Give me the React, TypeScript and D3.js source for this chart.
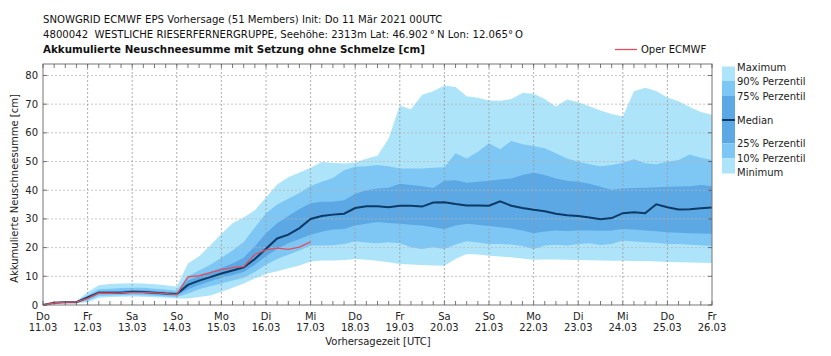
import React from "react";
import * as d3 from "d3";

// forecast time steps (hours after 11.03.2021 00 UTC)
const hours = [
  0, 6, 12, 18, 24, 30, 36, 42, 48, 54, 60, 66, 72, 78, 84, 90, 96, 102, 108, 114,
  120, 126, 132, 138, 144, 150, 156, 162, 168, 174, 180, 186, 192, 198, 204, 210,
  216, 222, 228, 234, 240, 246, 252, 258, 264, 270, 276, 282, 288, 294, 300, 306,
  312, 318, 324, 330, 336, 342, 348, 354, 360,
];

const minimum = [
  0, 0.5, 0.7, 0.7, 1.0, 2.5, 2.8, 2.9, 3.0, 2.9, 2.7, 2.5, 2.3, 2.3, 2.8, 3.3, 4.6, 6.0, 7.5, 9.2,
  10.8, 11.8, 12.8, 13.8, 15.2, 15.5, 15.5, 15.7, 16.0, 15.8, 15.4, 14.9, 14.3, 14.1, 13.9, 13.8,
  13.7, 16.0, 17.8, 17.6, 17.2, 16.9, 16.6, 16.2, 15.8, 15.9, 15.9, 15.8, 15.7, 15.6, 15.5, 15.4,
  15.4, 15.3, 15.3, 15.2, 15.0, 14.9, 14.8, 14.7, 14.6,
];
const p10 = [
  0, 0.6, 0.8, 0.8, 1.5, 3.2, 3.3, 3.4, 3.5, 3.4, 3.2, 3.0, 2.8, 4.0, 5.5, 6.5, 7.5, 8.5, 9.5, 11.5,
  14.0, 16.0, 17.5, 19.0, 20.7, 20.7, 20.8, 21.3, 22.2, 21.8, 21.5, 21.9, 21.5, 20.1, 19.5, 20.1,
  19.5, 21.1, 22.2, 21.8, 21.3, 21.3, 21.1, 20.6, 19.5, 20.7, 21.0, 20.7, 21.3, 21.5, 20.9, 21.3,
  22.5, 22.1, 21.9, 21.7, 21.3, 21.3, 21.0, 20.8, 20.6,
];
const p25 = [
  0, 0.7, 0.9, 0.9, 2.1, 3.8, 3.8, 3.9, 4.0, 3.9, 3.7, 3.5, 3.3, 5.5, 7.0, 8.3, 9.5, 10.5, 11.5, 14.0,
  17.0, 19.5, 21.5, 23.0, 24.5, 25.5, 26.3, 26.5, 27.7, 28.3, 28.9, 28.6, 28.3, 28.0, 27.7, 27.1,
  26.5, 27.7, 28.3, 28.0, 27.5, 27.1, 26.7, 26.0, 25.0, 25.6, 26.0, 25.8, 26.0, 26.0, 25.9, 26.0,
  26.5, 26.3, 26.0, 25.7, 25.4, 25.2, 25.0, 24.9, 24.8,
];
const median = [
  0, 0.8, 1.0, 1.0, 2.6, 4.3, 4.3, 4.3, 4.6, 4.5, 4.3, 4.0, 3.8, 7.0, 8.5, 9.7, 11.0, 12.0, 13.1, 16.0,
  19.6, 23.2, 24.5, 26.8, 30.0, 31.0, 31.5, 31.8, 33.8, 34.4, 34.4, 34.1, 34.6, 34.6, 34.3, 35.7,
  35.8, 35.2, 34.7, 34.7, 34.6, 36.1, 34.6, 33.8, 33.2, 32.7, 31.8, 31.3, 31.0, 30.5, 29.9, 30.3,
  32.0, 32.3, 32.0, 35.1, 34.1, 33.3, 33.4, 33.7, 34.0,
];
const p75 = [
  0, 0.9, 1.1, 1.1, 3.0, 4.8, 4.9, 5.0, 5.2, 5.1, 4.9, 4.6, 4.3, 8.5, 10.0, 11.5, 13.0, 14.5, 16.5, 20.5,
  25.0, 28.5, 31.0, 33.5, 35.5, 36.0, 36.0, 36.5, 38.8, 40.0, 40.6, 40.9, 42.3, 41.8, 41.4, 40.8,
  43.3, 43.5, 42.6, 43.0, 43.3, 43.7, 44.1, 45.3, 46.1, 45.3, 44.1, 43.3, 43.0, 42.3, 41.2, 40.2,
  40.6, 40.8, 40.9, 41.0, 41.2, 41.3, 41.4, 41.8, 41.4,
];
const p90 = [
  0, 1.0, 1.2, 1.2, 3.4, 5.5, 5.7, 5.9, 6.0, 6.0, 5.7, 5.4, 5.0, 10.0, 12.0, 14.0, 16.5, 19.0, 22.0, 27.0,
  32.0, 35.0, 37.0, 39.0, 41.5, 43.0, 44.3, 47.0, 48.2, 48.4, 48.8, 48.4, 47.6, 47.6, 47.6, 47.8,
  48.0, 52.9, 51.1, 53.4, 56.4, 54.3, 57.2, 56.0, 55.4, 54.6, 52.9, 51.1, 49.9, 49.1, 48.4, 48.8,
  49.6, 50.8, 49.4, 49.1, 49.9, 50.5, 52.5, 51.3, 50.5,
];
const maximum = [
  0, 1.1, 1.3, 1.4, 4.5, 6.9, 7.3, 7.5, 7.6, 7.5, 7.2, 6.9, 6.4, 14.5, 17.0, 20.7, 24.8, 28.5, 30.5, 33.0,
  37.5, 42.0, 44.5, 46.2, 47.8, 49.8, 49.5, 49.3, 49.7, 51.0, 52.0, 58.0, 69.5, 68.2, 73.3, 74.5,
  76.5, 76.0, 72.8, 72.2, 71.3, 71.2, 71.8, 73.9, 73.6, 71.8, 69.2, 71.6, 70.7, 69.3, 67.8, 66.6,
  65.7, 74.5, 75.7, 74.6, 72.3, 71.0, 69.0, 67.3, 66.3,
];
// deterministic run (ends at 17.03 00 UTC)
const oper = [
  0, 0.7, 1.0, 1.0, 2.3, 4.1, 4.1, 4.2, 4.4, 4.4, 4.2, 4.0, 3.6, 9.8, 10.2, 11.3, 12.3, 13.0, 13.4,
  17.6, 19.2, 19.8, 19.4, 20.2, 22.0,
];

const dayNames = ["Do", "Fr", "Sa", "So", "Mo", "Di", "Mi", "Do", "Fr", "Sa", "So", "Mo", "Di", "Mi", "Do", "Fr"];
const dayDates = ["11.03", "12.03", "13.03", "14.03", "15.03", "16.03", "17.03", "18.03", "19.03", "20.03", "21.03", "22.03", "23.03", "24.03", "25.03", "26.03"];
const yTicks = [0, 10, 20, 30, 40, 50, 60, 70, 80];

const legendItems = ["Maximum", "90% Perzentil", "75% Perzentil", "Median", "25% Perzentil", "10% Perzentil", "Minimum"];

const W = 831, H = 356;
const L = 43, R = 712, T = 64, B = 305;
const C_LIGHT = "#aee4fa";
const C_MED = "#7ec6f4";
const C_DARK = "#5ba8e4";
const C_MEDIAN = "#0c3a64";
const C_OPER = "#e0505f";
const FONT = "DejaVu Sans";

export default function App() {
  const x = d3.scaleLinear().domain([0, 360]).range([L, R]);
  const y = d3.scaleLinear().domain([0, 84]).range([B, T]);

  const band = (lo: number[], hi: number[]) =>
    d3.area<number>()
      .x((i) => x(hours[i]))
      .y0((i) => y(lo[i]))
      .y1((i) => y(hi[i]))(hours.map((_, i) => i)) || "";

  const line = (vals: number[]) =>
    d3.line<number>().x((i) => x(hours[i])).y((i) => y(vals[i]))(vals.map((_, i) => i)) || "";

  const dayTicks = dayDates.map((_, i) => i * 24);
  const minorTicks = hours;

  return (
    <svg width={W} height={H} style={{ position: "absolute", left: 0, top: 0, background: "#fff" }} fontFamily={FONT}>
      {/* titles */}
      <text x={43} y={23} fontSize={10.15} fill="#111">SNOWGRID ECMWF EPS Vorhersage (51 Members) Init: Do 11 Mär 2021 00UTC</text>
      <text x={43} y={38} fontSize={10.15} fill="#111">
        {"4800042\u00a0\u00a0WESTLICHE RIESERFERNERGRUPPE, Seehöhe: 2313m Lat: 46.902\u2009°\u2009N Lon: 12.065°\u2009O"}
      </text>
      <text x={43} y={53} fontSize={10.3} fontWeight="bold" fill="#111">Akkumulierte Neuschneesumme mit Setzung ohne Schmelze [cm]</text>

      {/* oper legend */}
      <line x1={615} x2={637} y1={49.5} y2={49.5} stroke={C_OPER} strokeWidth={1.3} />
      <text x={641} y={53} fontSize={10} fill="#111">Oper ECMWF</text>

      {/* bands */}
      <path d={band(minimum, maximum)} fill={C_LIGHT} />
      <path d={band(p10, p90)} fill={C_MED} />
      <path d={band(p25, p75)} fill={C_DARK} />

      {/* grid */}
      {yTicks.filter((v) => v > 0).map((v) => (
        <line key={"gy" + v} x1={L} x2={R} y1={y(v)} y2={y(v)} stroke="#b8b8b8" strokeWidth={0.8} strokeDasharray="2,2" />
      ))}
      {dayTicks.slice(1, -1).map((h) => (
        <line key={"gx" + h} x1={x(h)} x2={x(h)} y1={T} y2={B} stroke="#999" strokeWidth={0.8} strokeDasharray="2,2" />
      ))}

      {/* lines */}
      <path d={line(median)} fill="none" stroke={C_MEDIAN} strokeWidth={2} />
      <path d={line(oper)} fill="none" stroke={C_OPER} strokeWidth={1.3} />

      {/* frame */}
      <rect x={L} y={T} width={R - L} height={B - T} fill="none" stroke="#777" strokeWidth={1} />

      {/* x ticks */}
      {minorTicks.map((h) => (
        <g key={"tx" + h}>
          <line x1={x(h)} x2={x(h)} y1={B} y2={B - 4} stroke="#555" strokeWidth={0.8} />
          <line x1={x(h)} x2={x(h)} y1={T} y2={T + 4} stroke="#555" strokeWidth={0.8} />
        </g>
      ))}
      {dayTicks.map((h, i) => (
        <g key={"lx" + h} fontSize={10} fill="#222" textAnchor="middle">
          <text x={x(h)} y={320}>{dayNames[i]}</text>
          <text x={x(h)} y={331}>{dayDates[i]}</text>
        </g>
      ))}

      {/* y ticks */}
      {yTicks.map((v) => (
        <g key={"ty" + v}>
          <line x1={L} x2={L + 4} y1={y(v)} y2={y(v)} stroke="#555" strokeWidth={0.8} />
          <line x1={R} x2={R - 4} y1={y(v)} y2={y(v)} stroke="#555" strokeWidth={0.8} />
          <text x={38} y={y(v) + 3.5} fontSize={10} fill="#222" textAnchor="end">{v}</text>
        </g>
      ))}

      {/* axis labels */}
      <text x={378} y={345} fontSize={10} fill="#222" textAnchor="middle">Vorhersagezeit [UTC]</text>
      <text transform={`translate(18,${(T + B) / 2 + 4}) rotate(-90)`} fontSize={10} fill="#222" textAnchor="middle">
        Akkumulierte Neuschneesumme [cm]
      </text>

      {/* band legend */}
      <rect x={722} y={66.5} width={13} height={14.5} fill={C_LIGHT} />
      <rect x={722} y={81} width={13} height={15} fill={C_MED} />
      <rect x={722} y={96} width={13} height={47.5} fill={C_DARK} />
      <rect x={722} y={143.5} width={13} height={15} fill={C_MED} />
      <rect x={722} y={158.5} width={13} height={15} fill={C_LIGHT} />
      <line x1={722} x2={735} y1={120} y2={120} stroke={C_MEDIAN} strokeWidth={2} />
      {legendItems.map((t, i) => (
        <text key={t} x={737} y={[67, 81.5, 96, 120.5, 143.5, 158, 172.5][i] + 3.5} fontSize={10} fill="#222">{t}</text>
      ))}
    </svg>
  );
}
